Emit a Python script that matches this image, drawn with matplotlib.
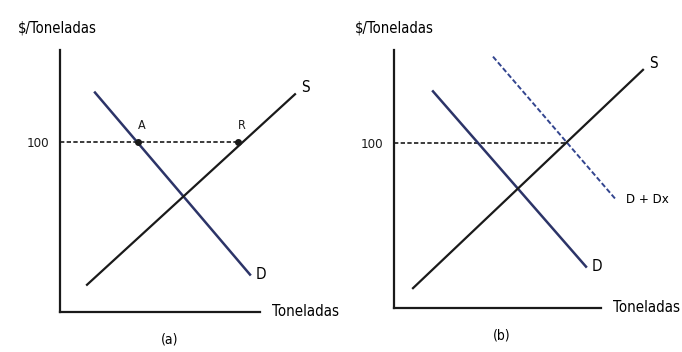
import matplotlib
matplotlib.use("Agg")
import matplotlib.pyplot as plt

plt.rcParams['font.family'] = ['Liberation Sans Narrow', 'DejaVu Sans']
plt.rcParams['font.stretch'] = 'condensed'

# (q, p) values; price 100 is the dashed level
precio = 100

# panel (a)
d_a_q = [17.5, 95]
d_a_p = [129, 22]
s_a_q = [13.5, 117.5]
s_a_p = [16, 128]
puntos_q = [39, 89]        # A y R
puntos_lbl = ['A', 'R']

# panel (b)
d_b_q = [19.5, 96]
d_b_p = [131, 25]
dx_b_q = [49.5, 111]
dx_b_p = [152, 65.5]
s_b_q = [9.5, 124.5]
s_b_p = [12, 144]

azul = '#2c3468'
negro = '#1a1a1a'

fig = plt.figure(figsize=(6.82, 3.52), dpi=100)
W, H = 682, 352

def panel(x0, y0, x1, ytop, xmax, ymax):
    # pixel box of the axes -> figure fraction
    ax = fig.add_axes([x0 / W, (H - y0) / H, (x1 - x0) / W, (y0 - ytop) / H])
    ax.set_xlim(0, xmax)
    ax.set_ylim(0, ymax)
    for s in ['top', 'right']:
        ax.spines[s].set_visible(False)
    for s in ['left', 'bottom']:
        ax.spines[s].set_linewidth(1.6)
        ax.spines[s].set_color(negro)
    ax.set_xticks([])
    ax.set_yticks([precio])
    ax.set_yticklabels(['100'], fontsize=9.5, color=negro)
    ax.tick_params(axis='y', length=0, pad=8)
    ax.patch.set_alpha(0)
    return ax

# ---- (a)
ax = panel(60, 312, 260, 50, 100, 154)
ax.plot([0, puntos_q[1]], [precio, precio], ls=(0, (2.6, 1.4)), color=negro, lw=1.2)
ax.plot(d_a_q, d_a_p, color=azul, lw=1.8, clip_on=False)
ax.plot(s_a_q, s_a_p, color=negro, lw=1.6, clip_on=False)
ax.scatter(puntos_q, [precio] * 2, s=16, color=negro, zorder=5)
for q, t in zip(puntos_q, puntos_lbl):
    ax.text(q + 2, precio + 6, t, fontsize=9, ha='center', va='bottom', color=negro)
ax.text(s_a_q[1] + 3, s_a_p[1] + 4, 'S', fontsize=11, ha='left', va='center', clip_on=False)
ax.text(d_a_q[1] + 3, d_a_p[1], 'D', fontsize=11, ha='left', va='center', clip_on=False)
ax.text(106, 0, 'Toneladas', fontsize=10.8, ha='left', va='center', clip_on=False)
ax.text(-0.21, 1.084, r'\$/Toneladas', fontsize=10.6, transform=ax.transAxes, ha='left', va='center')
ax.text(0.55, -0.08, '(a)', fontsize=10, transform=ax.transAxes, ha='center', va='top')

# ---- (b)
bx = panel(394, 308, 601, 50, 103.5, 156)
bx.plot([0, 87], [precio, precio], ls=(0, (2.6, 1.4)), color=negro, lw=1.2)
bx.plot(d_b_q, d_b_p, color=azul, lw=1.8, clip_on=False)
bx.plot(dx_b_q, dx_b_p, color='#33458f', lw=1.4, ls=(0, (2.6, 1.3)), clip_on=False)
bx.plot(s_b_q, s_b_p, color=negro, lw=1.6, clip_on=False)
bx.text(s_b_q[1] + 3, s_b_p[1] + 4, 'S', fontsize=11, ha='left', va='center', clip_on=False)
bx.text(d_b_q[1] + 3, d_b_p[1], 'D', fontsize=11, ha='left', va='center', clip_on=False)
bx.text(dx_b_q[1] + 5, dx_b_p[1], 'D + Dx', fontsize=9.5, ha='left', va='center', clip_on=False)
bx.text(109.5, 0, 'Toneladas', fontsize=10.8, ha='left', va='center', clip_on=False)
bx.text(-0.19, 1.084, r'\$/Toneladas', fontsize=10.6, transform=bx.transAxes, ha='left', va='center')
bx.text(0.52, -0.08, '(b)', fontsize=10, transform=bx.transAxes, ha='center', va='top')

fig.savefig('out.png', dpi=100)
